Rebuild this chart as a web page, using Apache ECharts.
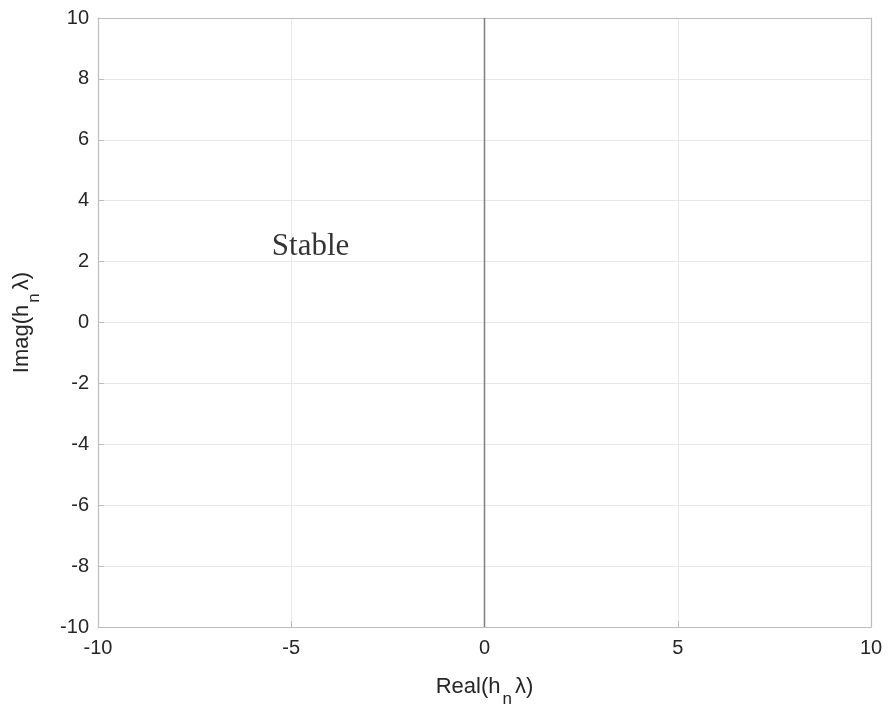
<!DOCTYPE html>
<html><head><meta charset="utf-8">
<script src="https://cdn.jsdelivr.net/npm/echarts@6/dist/echarts.min.js"></script>
<style>html,body{margin:0;padding:0;background:#fff}#c{width:888px;height:707px}</style>
</head><body><div id="c"></div>
<script>
const xRange = [-10, 10];
const yRange = [-10, 10];
const xTicks = [-10, -5, 0, 5, 10];
const yTicks = [-10, -8, -6, -4, -2, 0, 2, 4, 6, 8, 10];
const boundaryLine = [[0, -10], [0, 10]];
const annotations = [{ x: -4.5, y: 2.5, text: 'Stable' }];

const chart = echarts.init(document.getElementById('c'));
const font = 'Liberation Sans, Arial, sans-serif';
const common = {
  axisLine: { show: true, onZero: false, lineStyle: { color: '#bdbdbd', width: 1.2 } },
  axisTick: { show: true, inside: true, length: 6, lineStyle: { color: '#bdbdbd' } },
  splitLine: { show: true, lineStyle: { color: '#e8e8e8', width: 1 } },
  axisLabel: { color: '#262626', fontSize: 20, fontFamily: font },
  nameTextStyle: { color: '#262626', fontSize: 22, fontFamily: font,
    rich: { sub: { fontSize: 17, fontFamily: font, color: '#262626', padding: [26, 3, 0, 2] } } }
};
const frameAxis = (pos) => ({
  type: 'value', position: pos, min: -10, max: 10,
  axisLine: { show: true, onZero: false, lineStyle: { color: '#bdbdbd', width: 1.2 } },
  axisTick: { show: false }, axisLabel: { show: false }, splitLine: { show: false }
});
chart.setOption({
  animation: false,
  grid: { left: 98, right: 17, top: 18, bottom: 80, show: false, containLabel: false, outerBoundsMode: 'none' },
  xAxis: [Object.assign({}, common, {
    type: 'value', min: xRange[0], max: xRange[1], interval: 5,
    axisLabel: Object.assign({}, common.axisLabel, { margin: 11, formatter: v => xTicks.includes(v) ? String(v) : '' }),
    name: 'Real(h{sub|n}λ)', nameLocation: 'middle', nameGap: 38
  }), Object.assign(frameAxis('top'), { min: xRange[0], max: xRange[1] })],
  yAxis: [Object.assign({}, common, {
    type: 'value', min: yRange[0], max: yRange[1], interval: 2,
    axisLabel: Object.assign({}, common.axisLabel, { margin: 9, formatter: v => yTicks.includes(v) ? String(v) : '' }),
    name: 'Imag(h{sub|n}λ)', nameLocation: 'middle', nameGap: 55, nameRotate: 90
  }), Object.assign(frameAxis('right'), { min: yRange[0], max: yRange[1] })],
  series: [{
    type: 'line', data: boundaryLine, symbol: 'none',
    lineStyle: { color: '#7f7f7f', width: 1.5 }, z: 5
  }, {
    type: 'scatter', symbolSize: 0,
    data: annotations.map(a => ({ value: [a.x, a.y], name: a.text })),
    label: { show: true, position: 'inside', formatter: p => p.name,
      fontFamily: 'Liberation Serif, Times New Roman, serif', fontSize: 31, color: '#000' }
  }]
});
</script></body></html>
